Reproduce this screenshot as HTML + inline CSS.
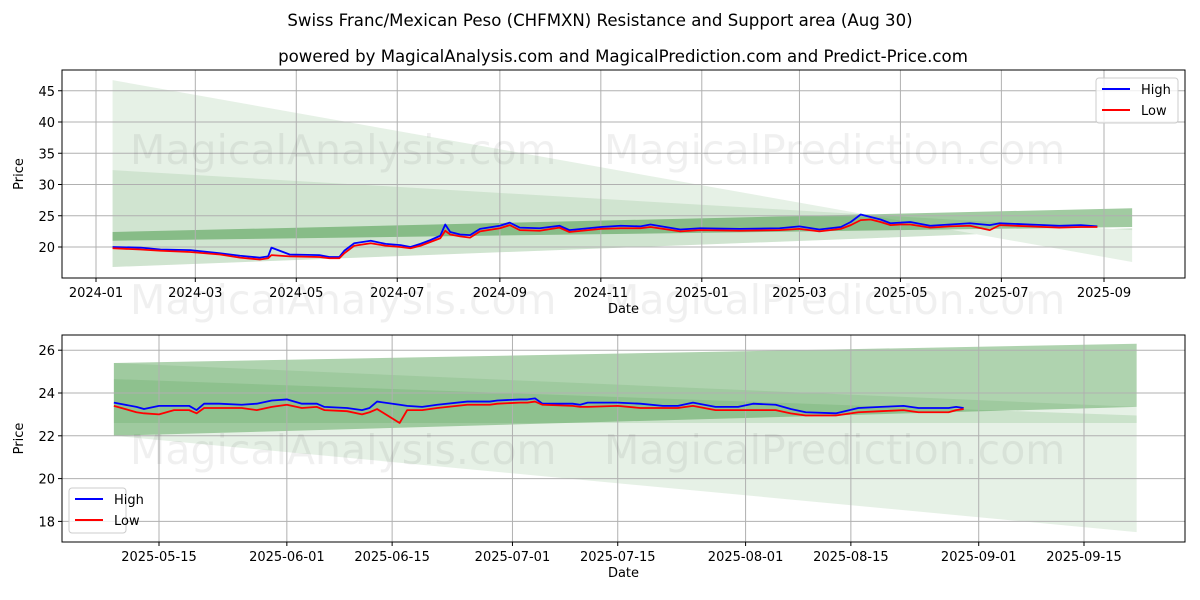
<!DOCTYPE html>
<html><head><meta charset="utf-8"><style>
body{margin:0;background:#fff;}
svg{display:block;font-family:"DejaVu Sans","Liberation Sans",sans-serif;}
</style></head><body>
<svg id="chart" width="1200" height="600" viewBox="0 0 1200 600" xmlns="http://www.w3.org/2000/svg">
<defs>
<clipPath id="clipTop"><rect x="62" y="70" width="1123" height="208"/></clipPath>
<clipPath id="clipBot"><rect x="62" y="335" width="1123" height="207"/></clipPath>
</defs>
<rect width="1200" height="600" fill="#fff"/>
<text x="600" y="26" text-anchor="middle" font-size="16.6" fill="#000">Swiss Franc/Mexican Peso (CHFMXN) Resistance and Support area (Aug 30)</text>
<text x="623" y="62" text-anchor="middle" font-size="16.6" fill="#000">powered by MagicalAnalysis.com and MagicalPrediction.com and Predict-Price.com</text>
<g id="top"></g>
<g id="bot"></g>
</svg>
<script>
// ---- top chart data (day offset from 2024-01-01) ----
const topDays=[10,27,39,57,75,87,99,104,106,117,135,141,147,150,156,166,175,184,190,196,202,208,211,214,220,226,232,244,250,256,268,280,286,305,317,329,335,353,365,389,413,425,437,450,456,462,468,474,480,486,492,504,516,528,540,546,564,582,595,605];
const topHigh=[20.0,19.9,19.6,19.5,19.0,18.6,18.3,18.5,19.9,18.8,18.7,18.4,18.4,19.4,20.6,21.0,20.5,20.3,20.0,20.5,21.1,21.8,23.6,22.4,22.0,21.9,22.9,23.4,23.9,23.1,23.0,23.4,22.7,23.2,23.4,23.3,23.6,22.8,23.0,22.9,23.0,23.3,22.8,23.2,24.0,25.2,24.8,24.4,23.8,23.9,24.0,23.4,23.6,23.8,23.5,23.8,23.6,23.4,23.5,23.3];
const topLow=[19.8,19.6,19.4,19.2,18.8,18.3,18.0,18.2,18.7,18.5,18.4,18.2,18.2,19.0,20.2,20.6,20.2,20.0,19.8,20.2,20.8,21.4,22.6,22.0,21.7,21.5,22.5,23.0,23.5,22.7,22.6,23.1,22.4,22.9,23.0,23.0,23.2,22.5,22.7,22.6,22.7,22.9,22.5,22.9,23.5,24.3,24.4,24.0,23.5,23.6,23.6,23.1,23.3,23.4,22.7,23.5,23.3,23.1,23.2,23.2];
const topTickDays=[0,60,121,182,244,305,366,425,486,547,609];
const topTickLabels=["2024-01","2024-03","2024-05","2024-07","2024-09","2024-11","2025-01","2025-03","2025-05","2025-07","2025-09"];
const topYTicks=[20,25,30,35,40,45];
const topBandDays=[10,626];
const topBand1=[46.7,16.8,17.6,23.0];
const topBand2=[32.3,16.8,22.7,23.0];
const topBand3=[22.4,21.0,26.2,23.2];
// ---- bottom chart data (day offset from 2025-05-15) ----
const botDays=[-6,-3,-2,0,2,4,5,6,8,11,13,15,17,19,21,22,25,27,28,29,32,33,35,37,41,44,45,48,49,50,51,55,56,57,61,64,67,69,71,74,77,79,82,84,86,90,93,96,99,101,105,106,107];
const botHigh=[23.55,23.35,23.25,23.4,23.4,23.4,23.2,23.5,23.5,23.45,23.5,23.65,23.7,23.5,23.5,23.35,23.3,23.2,23.3,23.6,23.45,23.4,23.35,23.45,23.6,23.6,23.65,23.7,23.7,23.75,23.5,23.5,23.45,23.55,23.55,23.5,23.4,23.4,23.55,23.35,23.35,23.5,23.45,23.25,23.1,23.05,23.3,23.35,23.4,23.3,23.3,23.35,23.3];
const botLow=[23.4,23.1,23.05,23.0,23.2,23.2,23.05,23.3,23.3,23.3,23.2,23.35,23.45,23.3,23.35,23.2,23.15,23.0,23.1,23.25,22.6,23.2,23.2,23.3,23.45,23.45,23.5,23.55,23.55,23.6,23.45,23.4,23.35,23.35,23.4,23.3,23.3,23.3,23.4,23.2,23.2,23.2,23.2,23.05,22.95,22.95,23.1,23.15,23.2,23.1,23.1,23.2,23.25];
const botTickDays=[0,17,31,47,61,78,92,109,123];
const botTickLabels=["2025-05-15","2025-06-01","2025-06-15","2025-07-01","2025-07-15","2025-08-01","2025-08-15","2025-09-01","2025-09-15"];
const botYTicks=[18,20,22,24,26];
const botBandDays=[-6,130];
const botBand1=[25.4,22.0,23.35,17.5];
const botBand2=[25.4,22.0,26.3,23.35];
const botBand3=[24.65,22.6,22.95,22.6];

const NS="http://www.w3.org/2000/svg";
function mk(parent,tag,attrs){const e=document.createElementNS(NS,tag);for(const k in attrs)e.setAttribute(k,attrs[k]);parent.appendChild(e);return e;}

function panel(g,cfg){
  const {x0,x1,y0,y1,X,Y}=cfg;
  const cg=mk(g,'g',{'clip-path':cfg.clip});
  cfg.bands.forEach((b,i)=>{
    const [a,c]=cfg.bandDays;
    const p=mk(cg,'polygon',{points:`${X(a)},${Y(b[0])} ${X(c)},${Y(b[2])} ${X(c)},${Y(b[3])} ${X(a)},${Y(b[1])}`,fill:'#2e8b2e','fill-opacity':cfg.alphas[i]});
    
    
  });
  cfg.xt.forEach((d,i)=>{
    const xx=X(d);
    const l=mk(g,'line',{x1:xx,x2:xx,y1:y0,y2:y1,stroke:'#b0b0b0','stroke-width':1});
    
    
    mk(g,'line',{x1:xx,x2:xx,y1:y1,y2:y1+4,stroke:'#000'});
    const t=mk(g,'text',{x:xx,y:y1+19,'text-anchor':'middle','font-size':13});
    t.textContent=cfg.xl[i];
    
    
  });
  cfg.yt.forEach(v=>{
    const yy=Y(v);
    const l=mk(g,'line',{x1:x0,x2:x1,y1:yy,y2:yy,stroke:'#b0b0b0','stroke-width':1});
    
    
    mk(g,'line',{x1:x0-4,x2:x0,y1:yy,y2:yy,stroke:'#000'});
    const t=mk(g,'text',{x:x0-7,y:yy+5,'text-anchor':'end','font-size':13});
    t.textContent=v;
    
    
  });
  cfg.wm.forEach(w=>{
    const t=mk(g,'text',{x:w[0],y:w[1],'font-size':41,fill:'#000','fill-opacity':0.06});
    t.textContent=w[2];
    
    
  });
  const line=(days,vals,col,name)=>{
    const p=mk(g,'polyline',{points:days.map((d,i)=>X(d)+','+Y(vals[i])).join(' '),fill:'none',stroke:col,'stroke-width':1.8,'stroke-linejoin':'round'});
    
    
  };
  line(cfg.days,cfg.high,'#0000ff','high-line');
  line(cfg.days,cfg.low,'#ff0000','low-line');
  const f=mk(g,'rect',{x:x0,y:y0,width:x1-x0,height:y1-y0,fill:'none',stroke:'#000','stroke-width':1});
  
  
  const xt=mk(g,'text',{x:(x0+x1)/2,y:y1+35,'text-anchor':'middle','font-size':13});
  xt.textContent='Date';
  
  
  const yt=mk(g,'text',{x:0,y:0,'text-anchor':'middle','font-size':13,transform:`translate(${x0-39},${(y0+y1)/2}) rotate(-90)`});
  yt.textContent='Price';
  
  
  const [lx,ly]=cfg.leg;
  const lg=mk(g,'g',{});
  
  
  mk(lg,'rect',{x:lx,y:ly,width:cfg.legW,height:45,rx:3,fill:'#fff','fill-opacity':0.8,stroke:'#ccc'});
  [['High','#0000ff'],['Low','#ff0000']].forEach((e,i)=>{
    const yy=ly+11+i*21;
    mk(lg,'line',{x1:lx+6,x2:lx+34,y1:yy,y2:yy,stroke:e[1],'stroke-width':2});
    const t=mk(lg,'text',{x:lx+45,y:yy+5,'font-size':13});
    t.textContent=e[0];
    
    
  });
}
panel(document.getElementById('top'),{x0:62,x1:1185,y0:70,y1:278,clip:'url(#clipTop)',
  X:d=>96+d*(1104-96)/609, Y:v=>247-(v-20)*6.25,
  days:topDays,high:topHigh,low:topLow,xt:topTickDays,xl:topTickLabels,yt:topYTicks,bandDays:topBandDays,bands:[topBand1,topBand2,topBand3],alphas:[0.12,0.12,0.45],
  wm:[[130,164,'MagicalAnalysis.com'],[604,164,'MagicalPrediction.com'],[130,314,'MagicalAnalysis.com'],[604,314,'MagicalPrediction.com']],leg:[1096,78],legW:82});
panel(document.getElementById('bot'),{x0:62,x1:1185,y0:335,y1:542,clip:'url(#clipBot)',
  X:d=>159+d*(1084-159)/123, Y:v=>393-(v-24)*21.4,
  days:botDays,high:botHigh,low:botLow,xt:botTickDays,xl:botTickLabels,yt:botYTicks,bandDays:botBandDays,bands:[botBand1,botBand2,botBand3],alphas:[0.12,0.38,0.15],
  wm:[[130,464,'MagicalAnalysis.com'],[604,464,'MagicalPrediction.com']],leg:[69,488],legW:57});
</script>
</body></html>
